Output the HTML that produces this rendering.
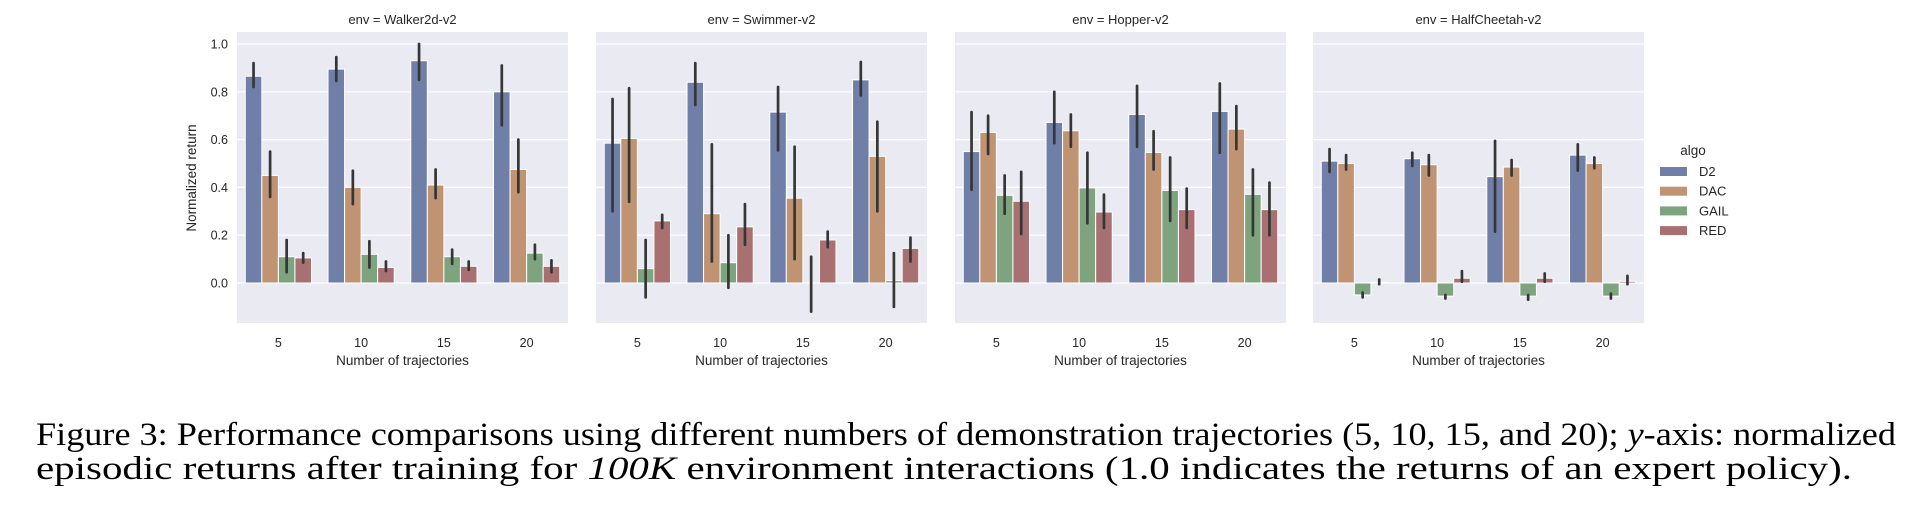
<!DOCTYPE html>
<html><head><meta charset="utf-8"><style>
body{margin:0;background:#fff;width:1907px;height:517px;overflow:hidden}
svg{display:block}
</style></head><body>
<svg id="chart" width="1907" height="517" xmlns="http://www.w3.org/2000/svg" font-family="Liberation Sans, sans-serif"></svg>
<script>
const envs = ["Walker2d-v2","Swimmer-v2","Hopper-v2","HalfCheetah-v2"];
const categories = ["5","10","15","20"];
const algos = ["D2","DAC","GAIL","RED"];
const colors = ["#6f7fa8","#c09373","#7ea47f","#a97072"];
const yTicks = [0.0,0.2,0.4,0.6,0.8,1.0];
const walkerMeans = [[0.865,0.45,0.11,0.105],[0.895,0.40,0.12,0.065],[0.93,0.41,0.11,0.07],[0.80,0.475,0.125,0.07]];
const walkerLo = [[0.82,0.36,0.045,0.085],[0.845,0.33,0.065,0.05],[0.85,0.355,0.08,0.055],[0.66,0.38,0.10,0.045]];
const walkerHi = [[0.92,0.55,0.18,0.125],[0.945,0.47,0.175,0.09],[1.0,0.475,0.14,0.09],[0.91,0.60,0.16,0.095]];
const swimmerMeans = [[0.585,0.605,0.06,0.26],[0.84,0.29,0.085,0.235],[0.715,0.355,0.0,0.18],[0.85,0.53,0.01,0.145]];
const swimmerLo = [[0.30,0.34,-0.06,0.23],[0.745,0.09,-0.02,0.16],[0.555,0.10,-0.12,0.15],[0.785,0.30,-0.10,0.09]];
const swimmerHi = [[0.77,0.815,0.18,0.285],[0.92,0.58,0.20,0.33],[0.82,0.57,0.11,0.215],[0.925,0.675,0.125,0.19]];
const hopperMeans = [[0.55,0.63,0.367,0.342],[0.672,0.637,0.398,0.297],[0.705,0.546,0.387,0.307],[0.718,0.644,0.371,0.307]];
const hopperLo = [[0.39,0.54,0.29,0.205],[0.585,0.57,0.25,0.23],[0.57,0.475,0.26,0.23],[0.545,0.56,0.20,0.20]];
const hopperHi = [[0.715,0.70,0.45,0.465],[0.80,0.705,0.545,0.37],[0.825,0.635,0.525,0.395],[0.835,0.74,0.475,0.42]];
const cheetahMeans = [[0.51,0.50,-0.05,0.003],[0.52,0.495,-0.055,0.02],[0.445,0.485,-0.055,0.02],[0.535,0.50,-0.055,0.007]];
const cheetahLo = [[0.465,0.475,-0.06,-0.005],[0.49,0.45,-0.065,0.005],[0.215,0.45,-0.07,0.005],[0.47,0.48,-0.065,-0.005]];
const cheetahHi = [[0.56,0.535,-0.04,0.015],[0.545,0.535,-0.05,0.05],[0.595,0.515,-0.05,0.04],[0.58,0.525,-0.045,0.03]];
const allMeans=[walkerMeans,swimmerMeans,hopperMeans,cheetahMeans];
const allLo=[walkerLo,swimmerLo,hopperLo,cheetahLo];
const allHi=[walkerHi,swimmerHi,hopperHi,cheetahHi];

const svg=document.getElementById('chart');
const NS="http://www.w3.org/2000/svg";
function mk(tag,attrs,parent){const e=document.createElementNS(NS,tag);for(const k in attrs)e.setAttribute(k,attrs[k]);(parent||svg).appendChild(e);return e;}
const panelX=[237,596,955,1313], panelW=331, panelTop=32, panelBottom=323;
const yScale=v=>283-v*239;
function xBand(p,i){return panelX[p]+panelW/4*(i+0.5);}

for(let p=0;p<4;p++){
  const g=mk('g',{});
  
  
  const bg=mk('rect',{x:panelX[p],y:panelTop,width:panelW,height:panelBottom-panelTop,fill:'#eaeaf2'},g);
  
  
  yTicks.forEach(t=>{
    const l=mk('line',{x1:panelX[p],x2:panelX[p]+panelW,y1:yScale(t),y2:yScale(t),stroke:'#fff','stroke-width':1.2},g);
    
    
    if(p===0){
      const tx=mk('text',{x:228,y:yScale(t)+4.5,'text-anchor':'end','font-size':12.5,fill:'#262626'},svg);
      tx.textContent=t.toFixed(1);
      
      
    }
  });
  const title=mk('text',{x:panelX[p]+panelW/2,y:24,'text-anchor':'middle','font-size':13,fill:'#262626'},g);
  title.textContent='env = '+envs[p];
  
  
  const bw=panelW/4*0.8/4;
  categories.forEach((c,i)=>{
    const cx=xBand(p,i);
    algos.forEach((a,k)=>{
      const v=allMeans[p][i][k];
      const bx=cx-2*bw+k*bw;
      const r=mk('rect',{x:bx,y:Math.min(yScale(v),yScale(0)),width:bw,height:Math.abs(yScale(v)-yScale(0)),fill:colors[k],stroke:'#fff','stroke-width':1},g);
      
      
      const e=mk('line',{x1:bx+bw/2,x2:bx+bw/2,y1:yScale(allLo[p][i][k]),y2:yScale(allHi[p][i][k]),stroke:'#363636','stroke-width':2.7,'stroke-linecap':'round'},g);
      
      
    });
    const tl=mk('text',{x:cx,y:347,'text-anchor':'middle','font-size':12.5,fill:'#262626'},g);
    tl.textContent=c;
    
    
  });
  const xl=mk('text',{x:panelX[p]+panelW/2,y:365,'text-anchor':'middle','font-size':13.5,fill:'#262626'},g);
  xl.textContent='Number of trajectories';
  
  
}
const yt=mk('text',{x:0,y:0,'text-anchor':'middle','font-size':13.5,fill:'#262626',transform:'translate(196,178) rotate(-90)'});
yt.textContent='Normalized return';



const lg=mk('g',{});


const lt=mk('text',{x:1693,y:155,'text-anchor':'middle','font-size':13.5,fill:'#262626'},lg);
lt.textContent='algo';


algos.forEach((a,k)=>{
  const yy=171+k*19.7;
  const r=mk('rect',{x:1660,y:yy-4,width:27,height:9,fill:colors[k]},lg);
  
  
  const t=mk('text',{x:1699,y:yy+5,'font-size':13,fill:'#262626'},lg);
  t.textContent=a;
  
  
});

const c1=mk('text',{x:36,y:445,'font-size':33,'font-family':'Liberation Serif, serif',fill:'#000',textLength:1860,lengthAdjust:'spacingAndGlyphs'});
c1.innerHTML='Figure 3: Performance comparisons using different numbers of demonstration trajectories (5, 10, 15, and 20); <tspan font-style="italic">y</tspan>-axis: normalized';


const c2=mk('text',{x:36,y:479,'font-size':33,'font-family':'Liberation Serif, serif',fill:'#000',textLength:1816,lengthAdjust:'spacingAndGlyphs'});
c2.innerHTML='episodic returns after training for <tspan font-style="italic">100K</tspan> environment interactions (1.0 indicates the returns of an expert policy).';


</script>
</body></html>
